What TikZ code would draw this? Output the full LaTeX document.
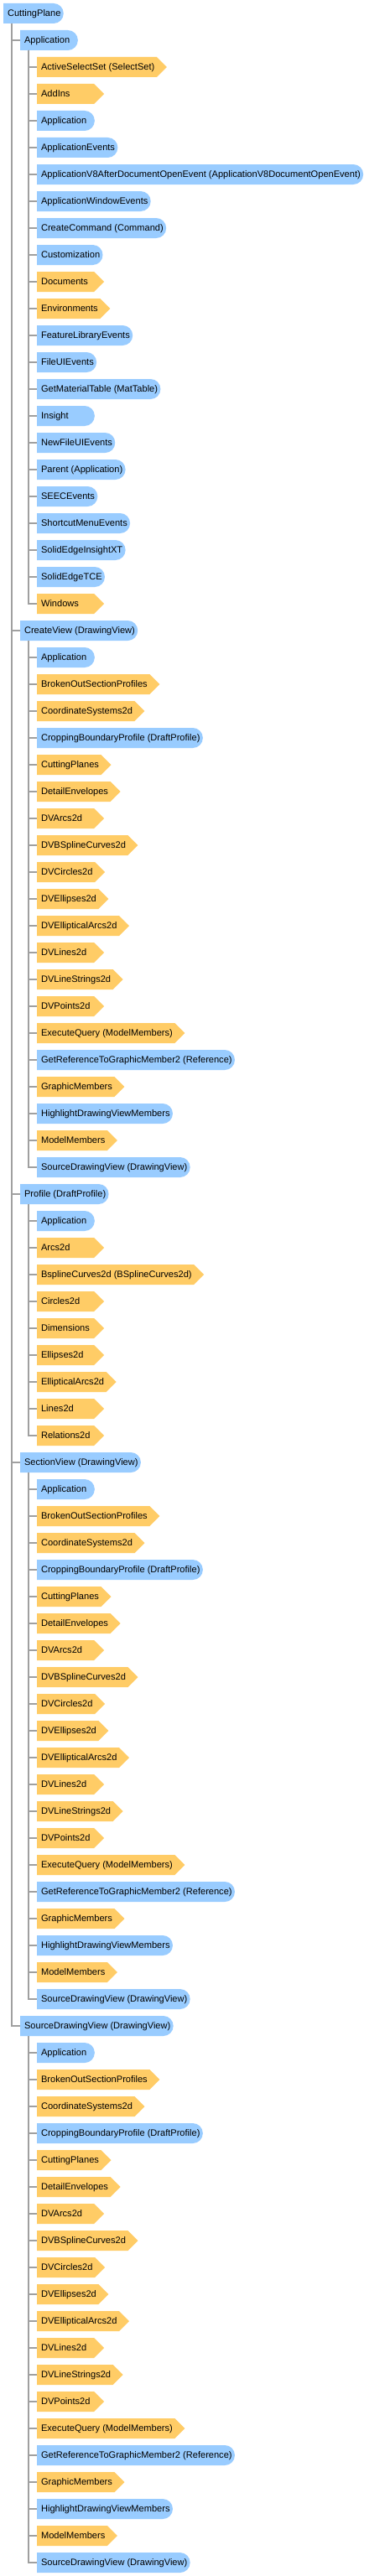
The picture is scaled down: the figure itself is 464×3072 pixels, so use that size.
\documentclass[tikz,border=0pt]{standalone}
\usepackage{fontspec}
\setmainfont{Liberation Sans}
\usetikzlibrary{shapes.misc,shapes.symbols,calc}

\definecolor{membblue}{RGB}{153,204,255}
\definecolor{collorange}{RGB}{255,204,102}
\definecolor{treegray}{RGB}{160,160,160}

% label with left padding and a minimum width
\newcommand\lbl[1]{\setbox0=\hbox{\hspace{1.9pt}#1}%
  \ifdim\wd0<47.25pt\hbox to 47.25pt{\unhbox0\hfil}\else\box0\fi}

% members of a drawing view
\newcommand\dvlist{memb/Application,
coll/BrokenOutSectionProfiles,
coll/CoordinateSystems2d,
memb/CroppingBoundaryProfile (DraftProfile),
coll/CuttingPlanes,
coll/DetailEnvelopes,
coll/DVArcs2d,
coll/DVBSplineCurves2d,
coll/DVCircles2d,
coll/DVEllipses2d,
coll/DVEllipticalArcs2d,
coll/DVLines2d,
coll/DVLineStrings2d,
coll/DVPoints2d,
coll/ExecuteQuery (ModelMembers),
memb/GetReferenceToGraphicMember2 (Reference),
coll/GraphicMembers,
memb/HighlightDrawingViewMembers,
coll/ModelMembers,
memb/SourceDrawingView (DrawingView)}

\tikzset{
  box/.style={anchor=west, minimum height=18pt, inner xsep=1.9pt, inner ysep=0pt,
    outer sep=0pt, font=\fontsize{8.3}{10}\selectfont, text height=6pt, text depth=0.5pt},
  memb/.style={box, rounded rectangle, rounded rectangle west arc=none, fill=membblue},
  coll/.style={box, signal, signal to=east, signal from=nowhere, fill=collorange},
  tree/.style={draw=treegray, line width=1.5pt}
}

\begin{document}
\begin{tikzpicture}[x=0.75pt,y=-0.75pt]
\fill[white] (0,0) rectangle (464,3072);
\useasboundingbox (0,0) rectangle (464,3072);

\node[memb] (cp) at (4,16) {\lbl{CuttingPlane}};

% Application
\node[memb] (app) at (24,48) {\lbl{Application}};
\draw[tree] ($(cp.west)+(10,12)$) |- (app.west);
\foreach \s/\t [count=\i] in {coll/ActiveSelectSet (SelectSet),
coll/AddIns,
memb/Application,
memb/ApplicationEvents,
memb/ApplicationV8AfterDocumentOpenEvent (ApplicationV8DocumentOpenEvent),
memb/ApplicationWindowEvents,
memb/CreateCommand (Command),
memb/Customization,
coll/Documents,
coll/Environments,
memb/FeatureLibraryEvents,
memb/FileUIEvents,
memb/GetMaterialTable (MatTable),
memb/Insight,
memb/NewFileUIEvents,
memb/Parent (Application),
memb/SEECEvents,
memb/ShortcutMenuEvents,
memb/SolidEdgeInsightXT,
memb/SolidEdgeTCE,
coll/Windows}{
  \node[\s] (app-\i) at (44,{16+32*(\i+1)}) {\lbl{\t}};
  \draw[tree] ($(app.west)+(10,12)$) |- (app-\i.west);
}

% the drawing views
\foreach \g/\r/\v in {cv/23/CreateView (DrawingView),
sv/54/SectionView (DrawingView),
sdv/75/SourceDrawingView (DrawingView)}{
  \node[memb] (\g) at (24,{16+32*\r}) {\lbl{\v}};
  \draw[tree] ($(cp.west)+(10,12)$) |- (\g.west);
  \foreach \s/\t [count=\i] in \dvlist {
    \node[\s] (\g-\i) at (44,{16+32*(\r+\i)}) {\lbl{\t}};
    \draw[tree] ($(\g.west)+(10,12)$) |- (\g-\i.west);
  }
}

% Profile
\node[memb] (prof) at (24,{16+32*44}) {\lbl{Profile (DraftProfile)}};
\draw[tree] ($(cp.west)+(10,12)$) |- (prof.west);
\foreach \s/\t [count=\i] in {memb/Application,
coll/Arcs2d,
coll/BsplineCurves2d (BSplineCurves2d),
coll/Circles2d,
coll/Dimensions,
coll/Ellipses2d,
coll/EllipticalArcs2d,
coll/Lines2d,
coll/Relations2d}{
  \node[\s] (prof-\i) at (44,{16+32*(44+\i)}) {\lbl{\t}};
  \draw[tree] ($(prof.west)+(10,12)$) |- (prof-\i.west);
}
\end{tikzpicture}
\end{document}
